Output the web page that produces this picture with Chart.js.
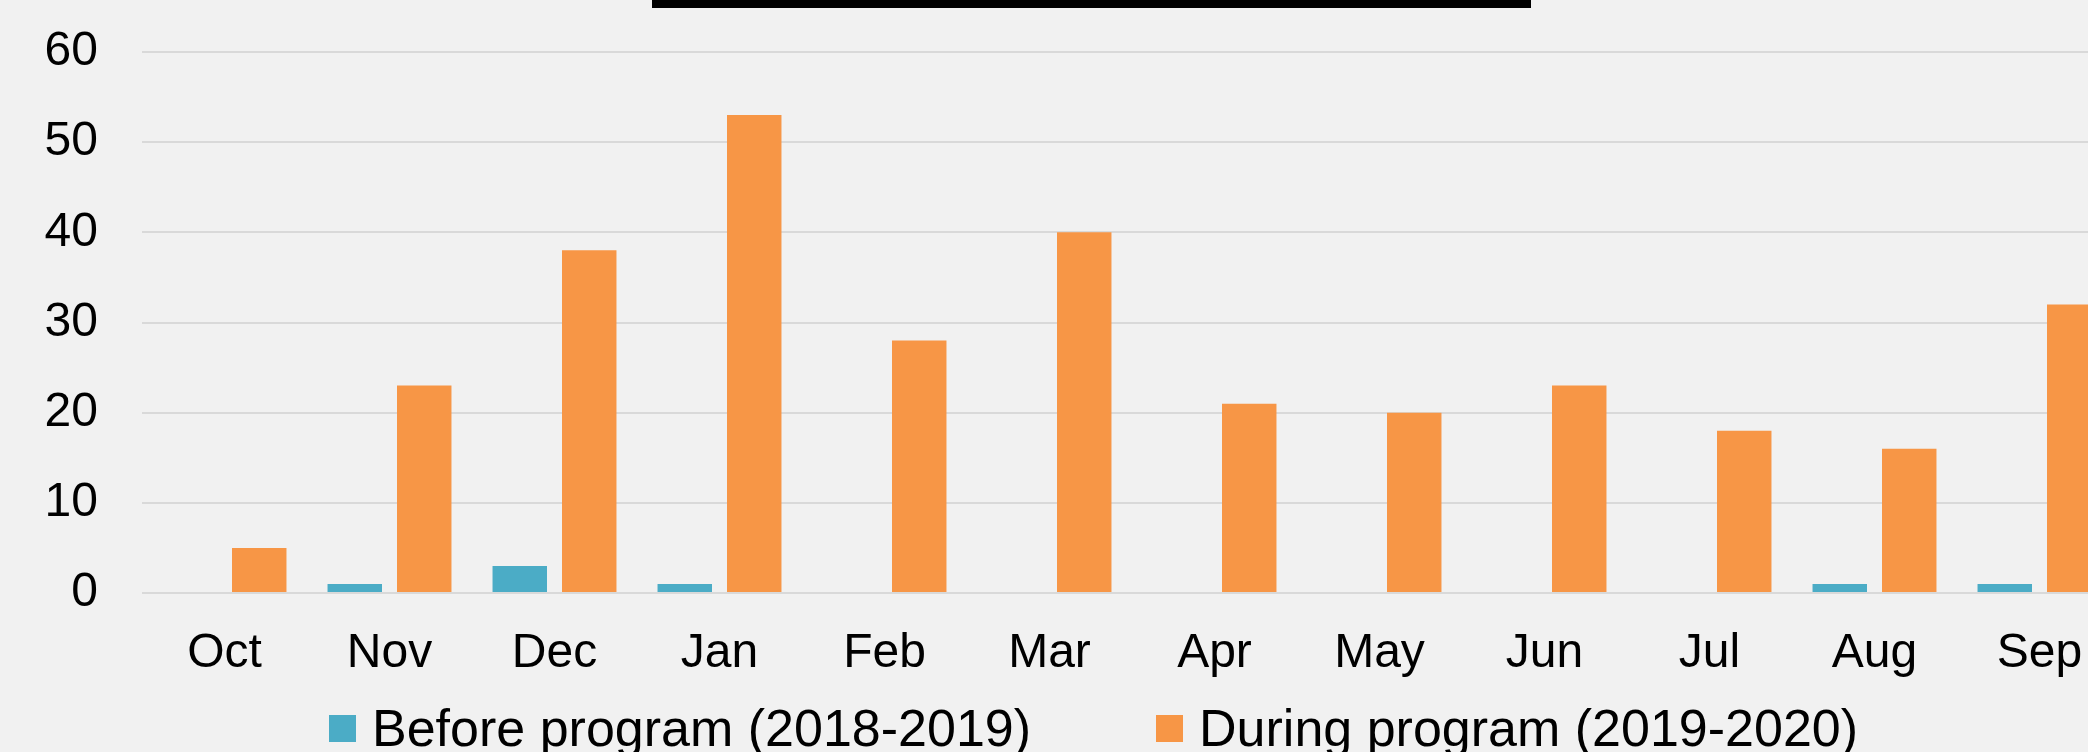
<!DOCTYPE html>
<html>
<head>
<meta charset="utf-8">
<script src="https://cdn.jsdelivr.net/npm/chart.js@4"></script>
<style>
    html, body {
        margin: 0;
        padding: 0;
        background: #f1f1f1;
        overflow: hidden;
        width: 2088px;
        height: 752px;
    }
    #wrap {
        position: relative;
        width: 2088px;
        height: 752px;
        overflow: hidden;
    }
    #chart {
        position: absolute;
        left: 0;
        top: 0;
    }
    #title-rule {
        position: absolute;
        left: 652px;
        top: 0;
        width: 879px;
        height: 8px;
        background: #000;
    }
    #legend {
        position: absolute;
        left: 329px;
        top: 702px;
        display: flex;
        gap: 125px;
        font-family: "Liberation Sans", Arial, sans-serif;
        font-size: 52px;
        line-height: 1;
        color: #000;
        white-space: nowrap;
    }
    .legend-item {
        display: flex;
        align-items: center;
    }
    .legend-box {
        width: 27px;
        height: 27px;
        margin-right: 16px;
    }
</style>
</head>
<body>
<div id="wrap">
    <canvas id="chart" width="2200" height="752"></canvas>
    <div id="title-rule"></div>
    <div id="legend"></div>
</div>
<script>
const months = ['Oct', 'Nov', 'Dec', 'Jan', 'Feb', 'Mar', 'Apr', 'May', 'Jun', 'Jul', 'Aug', 'Sep'];
const beforeProgram = [0, 1, 3, 1, 0, 0, 0, 0, 0, 0, 1, 1];
const duringProgram = [5, 23, 38, 53, 28, 40, 21, 20, 23, 18, 16, 32];
const seriesNames = ['Before program (2018-2019)', 'During program (2019-2020)'];
const seriesColors = ['#4bacc6', '#f79646'];

const ctx = document.getElementById('chart').getContext('2d');
const tickFont = { family: '"Liberation Sans", Arial, sans-serif', size: 48 };

window.myChart = new Chart(ctx, {
    type: 'bar',
    data: {
        labels: months,
        datasets: [
            {
                label: seriesNames[0],
                data: beforeProgram,
                backgroundColor: seriesColors[0],
                categoryPercentage: 0.842,
                barPercentage: 0.784
            },
            {
                label: seriesNames[1],
                data: duringProgram,
                backgroundColor: seriesColors[1],
                categoryPercentage: 0.842,
                barPercentage: 0.784
            }
        ]
    },
    options: {
        responsive: false,
        animation: false,
        layout: {
            padding: { top: 52, left: 0, right: 78, bottom: 59 }
        },
        plugins: {
            legend: { display: false },
            tooltip: { enabled: false }
        },
        scales: {
            x: {
                grid: { display: false },
                border: { display: false },
                ticks: { color: '#000', font: tickFont, padding: 24, maxRotation: 0, autoSkip: false },
                afterFit: function(scale) {
                    scale.height = 100;
                    scale.paddingLeft = 0;
                    scale.paddingRight = 0;
                }
            },
            y: {
                min: 0,
                max: 60,
                ticks: { stepSize: 10, color: '#000', font: tickFont, padding: 44 },
                grid: { color: '#d9d9d9', lineWidth: 2, drawTicks: false },
                border: { display: false },
                afterFit: function(scale) {
                    scale.width = 142;
                    scale.paddingTop = 0;
                    scale.paddingBottom = 0;
                }
            }
        }
    }
});

// legend built from the chart's own datasets
const legendDiv = document.getElementById('legend');
window.myChart.data.datasets.forEach(ds => {
    const item = document.createElement('div');
    item.className = 'legend-item';
    const box = document.createElement('span');
    box.className = 'legend-box';
    box.style.background = ds.backgroundColor;
    const text = document.createElement('span');
    text.textContent = ds.label;
    item.appendChild(box);
    item.appendChild(text);
    legendDiv.appendChild(item);
});
</script>
</body>
</html>
